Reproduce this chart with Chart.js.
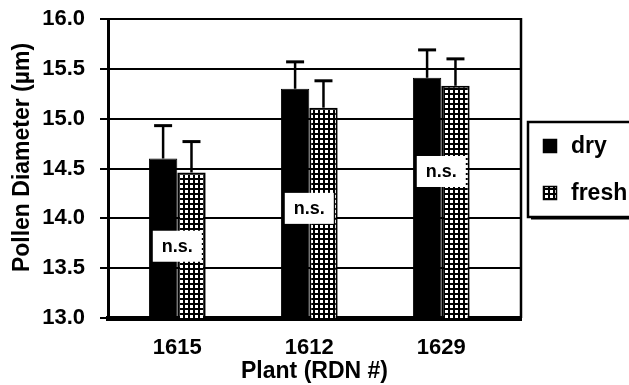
<!DOCTYPE html>
<html>
<head>
<meta charset="utf-8">
<script src="https://cdn.jsdelivr.net/npm/chart.js@4.4.1/dist/chart.umd.min.js"></script>
<style>
  html, body { margin: 0; padding: 0; background: #fff; }
  #wrap { width: 629px; height: 385px; }
</style>
</head>
<body>
<div id="wrap"><canvas id="chart"></canvas></div>
<script>
const plants = ["1615", "1612", "1629"];
const dryMeans = [14.60, 15.30, 15.41];
const dryErrors = [0.33, 0.27, 0.28];
const freshMeans = [14.46, 15.11, 15.33];
const freshErrors = [0.31, 0.27, 0.27];
const nsLevels = [13.72, 14.10, 14.47];
const yTicks = [13.0, 13.5, 14.0, 14.5, 15.0, 15.5, 16.0];
const seriesNames = ["dry", "fresh"];

const FONT = "'Liberation Sans', Arial, sans-serif";
Chart.defaults.font.family = FONT;
Chart.defaults.color = "#000";

// small white squares with black lines, like the "fresh" fill
function gridPattern () {
  const c = document.createElement("canvas");
  c.width = 5;
  c.height = 5;
  const g = c.getContext("2d");
  g.fillStyle = "#fff";
  g.fillRect(0, 0, 5, 5);
  g.fillStyle = "#000";
  g.fillRect(3, 0, 2, 5);
  g.fillRect(0, 3, 5, 2);
  return g.createPattern(c, "repeat");
}
const freshFill = gridPattern();

const errorBars = {
  id: "errorBars",
  afterDatasetsDraw (chart) {
    const ctx = chart.ctx;
    const y = chart.scales.y;
    chart.data.datasets.forEach((ds, di) => {
      chart.getDatasetMeta(di).data.forEach((bar, i) => {
        const top = y.getPixelForValue(ds.data[i].y + ds.errors[i]);
        ctx.save();
        ctx.strokeStyle = "#000";
        ctx.lineWidth = 2.5;
        ctx.beginPath();
        ctx.moveTo(bar.x, bar.y);
        ctx.lineTo(bar.x, top);
        ctx.stroke();
        ctx.lineWidth = 3;
        ctx.beginPath();
        ctx.moveTo(bar.x - 9, top);
        ctx.lineTo(bar.x + 9, top);
        ctx.stroke();
        ctx.restore();
      });
    });
  }
};

const extras = {
  id: "extras",
  afterDraw (chart) {
    const ctx = chart.ctx;
    const area = chart.chartArea;
    const x = chart.scales.x;
    const y = chart.scales.y;
    ctx.save();

    // right frame line
    ctx.strokeStyle = "#000";
    ctx.lineWidth = 2.5;
    ctx.beginPath();
    ctx.moveTo(area.right, area.top - 1);
    ctx.lineTo(area.right, area.bottom);
    ctx.stroke();

    // n.s. boxes
    ctx.font = "bold 18px " + FONT;
    ctx.textAlign = "center";
    ctx.textBaseline = "middle";
    nsLevels.forEach((lvl, i) => {
      const cx = x.getPixelForValue(i);
      const cy = y.getPixelForValue(lvl);
      ctx.fillStyle = "#fff";
      ctx.fillRect(cx - 24.5, cy - 15.5, 49, 31);
      ctx.fillStyle = "#000";
      ctx.fillText("n.s.", cx, cy + 1);
    });

    // y axis title
    ctx.save();
    ctx.translate(23, (area.top + area.bottom) / 2 - 11);
    ctx.rotate(-Math.PI / 2);
    ctx.font = "bold 23px " + FONT;
    ctx.fillText("Pollen Diameter (µm)", 0, 0);
    ctx.restore();

    // legend box
    const lx = area.right + 7;
    const ly = 122;
    ctx.fillStyle = "#000";
    ctx.fillRect(lx + 3, ly + 95, 112, 2.5);
    ctx.lineWidth = 2.5;
    ctx.strokeRect(lx, ly, 112, 95);
    ctx.font = "bold 23px " + FONT;
    ctx.textAlign = "left";
    const rows = [ly + 24, ly + 71];
    chart.data.datasets.forEach((ds, di) => {
      const ry = rows[di];
      ctx.fillStyle = ds.backgroundColor;
      ctx.fillRect(lx + 15, ry - 7, 14, 14);
      ctx.lineWidth = 1.5;
      ctx.strokeRect(lx + 15.5, ry - 6.5, 13, 13);
      ctx.fillStyle = "#000";
      ctx.fillText(ds.label, lx + 43, ry + 1);
    });
    ctx.restore();
  }
};

new Chart(document.getElementById("chart"), {
  type: "bar",
  data: {
    datasets: [
      {
        label: seriesNames[0],
        data: dryMeans.map((v, i) => ({ x: i, y: v })),
        errors: dryErrors,
        backgroundColor: "#000",
        borderColor: "#000",
        borderWidth: 1
      },
      {
        label: seriesNames[1],
        data: freshMeans.map((v, i) => ({ x: i, y: v })),
        errors: freshErrors,
        backgroundColor: freshFill,
        borderColor: "#000",
        borderWidth: 2
      }
    ]
  },
  options: {
    responsive: true,
    maintainAspectRatio: false,
    animation: false,
    barPercentage: 1,
    categoryPercentage: 0.43,
    layout: { padding: { top: 19, right: 108, left: 0, bottom: 0 } },
    plugins: {
      legend: { display: false },
      tooltip: { enabled: false }
    },
    scales: {
      x: {
        type: "linear",
        offset: false,
        min: -0.525,
        max: 2.604,
        afterBuildTicks: (s) => { s.ticks = plants.map((p, i) => ({ value: i })); },
        afterFit: (s) => { s.height = 67; },
        ticks: {
          callback: (v) => plants[v],
          font: { size: 22, weight: "bold" },
          padding: 17,
          maxRotation: 0
        },
        grid: { display: false, drawTicks: false, tickLength: 0 },
        border: { display: true, color: "#000", width: 5 },
        title: {
          display: true,
          text: "Plant (RDN #)",
          font: { size: 23, weight: "bold" },
          padding: { top: 0, bottom: 0 }
        }
      },
      y: {
        min: 13,
        max: 16,
        afterBuildTicks: (s) => { s.ticks = yTicks.map((v) => ({ value: v })); },
        afterFit: (s) => {
          s.width = 108;
          s.paddingTop = 4;
          s.paddingBottom = 4;
        },
        ticks: {
          callback: (v) => v.toFixed(1),
          font: { size: 22, weight: "bold" },
          padding: 15
        },
        grid: { color: "#000", lineWidth: 2, tickLength: 8 },
        border: { display: true, color: "#000", width: 3 }
      }
    }
  },
  plugins: [errorBars, extras]
});
</script>
</body>
</html>
